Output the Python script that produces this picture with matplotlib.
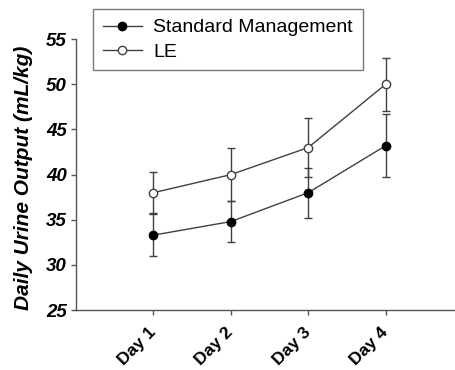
import matplotlib
matplotlib.use("Agg")
import matplotlib.pyplot as plt
from matplotlib.lines import Line2D

days = ["Day 1", "Day 2", "Day 3", "Day 4"]
sm_mean = [33.3, 34.8, 38.0, 43.2]
sm_err = [2.35, 2.3, 2.75, 3.5]
le_mean = [38.0, 40.0, 43.0, 50.0]
le_err = [2.3, 2.9, 3.27, 2.93]
yticks = [25, 30, 35, 40, 45, 50, 55]
series_names = ["Standard Management", "LE"]

plt.rcParams['font.family'] = ['Liberation Sans', 'DejaVu Sans']

fig = plt.figure(figsize=(4.56, 3.70), dpi=100)
ax = fig.add_axes([0.1667, 0.162, 0.8333, 0.732])

x = list(range(1, len(days) + 1))
col = '#404040'
ax.errorbar(x, sm_mean, yerr=sm_err, color=col, lw=1.0, marker='o', ms=6,
            mfc='black', mec='black', ecolor=col, elinewidth=1.0, capsize=3.2,
            capthick=1.0, zorder=3)
ax.errorbar(x, le_mean, yerr=le_err, color=col, lw=1.0, marker='o', ms=6,
            mfc='white', mec=col, ecolor=col, elinewidth=1.0, capsize=3.2,
            capthick=1.0, zorder=3)

ax.set_xlim(0, 4.91)
ax.set_ylim(25, 55)
ax.set_yticks(yticks)
ax.set_xticks(x)
ax.set_xticklabels(days, rotation=45, ha='right', va='center',
                   rotation_mode='anchor', fontsize=12.5, fontweight='bold')
for lab in ax.get_yticklabels():
    lab.set_fontsize(13.5)
    lab.set_fontweight('bold')
    lab.set_fontstyle('italic')
ax.spines['top'].set_visible(False)
ax.spines['right'].set_visible(False)
for s in ['left', 'bottom']:
    ax.spines[s].set_color('#555555')
    ax.spines[s].set_linewidth(1.0)
ax.tick_params(axis='both', direction='out', length=3.5, color='#555555', width=1.0)
ax.tick_params(axis='x', pad=11)
ax.tick_params(axis='y', pad=3)
ax.set_ylabel('Daily Urine Output (mL/kg)', fontsize=15, fontweight='bold',
              fontstyle='italic')
ax.yaxis.set_label_coords(-0.113, 0.49)

handles = [
    Line2D([], [], color=col, lw=1.0, marker='o', ms=6, mfc='black', mec='black'),
    Line2D([], [], color=col, lw=1.0, marker='o', ms=6, mfc='white', mec=col),
]
leg = fig.legend(handles, series_names, loc='upper left',
                 bbox_to_anchor=(0.204, 0.9757), borderaxespad=0, fontsize=14,
                 frameon=True, fancybox=False, edgecolor='#555555',
                 handlelength=2.0, borderpad=0.5, labelspacing=0.35,
                 handletextpad=0.6)
leg.get_frame().set_linewidth(1.0)

fig.savefig('out.png', dpi=100)
